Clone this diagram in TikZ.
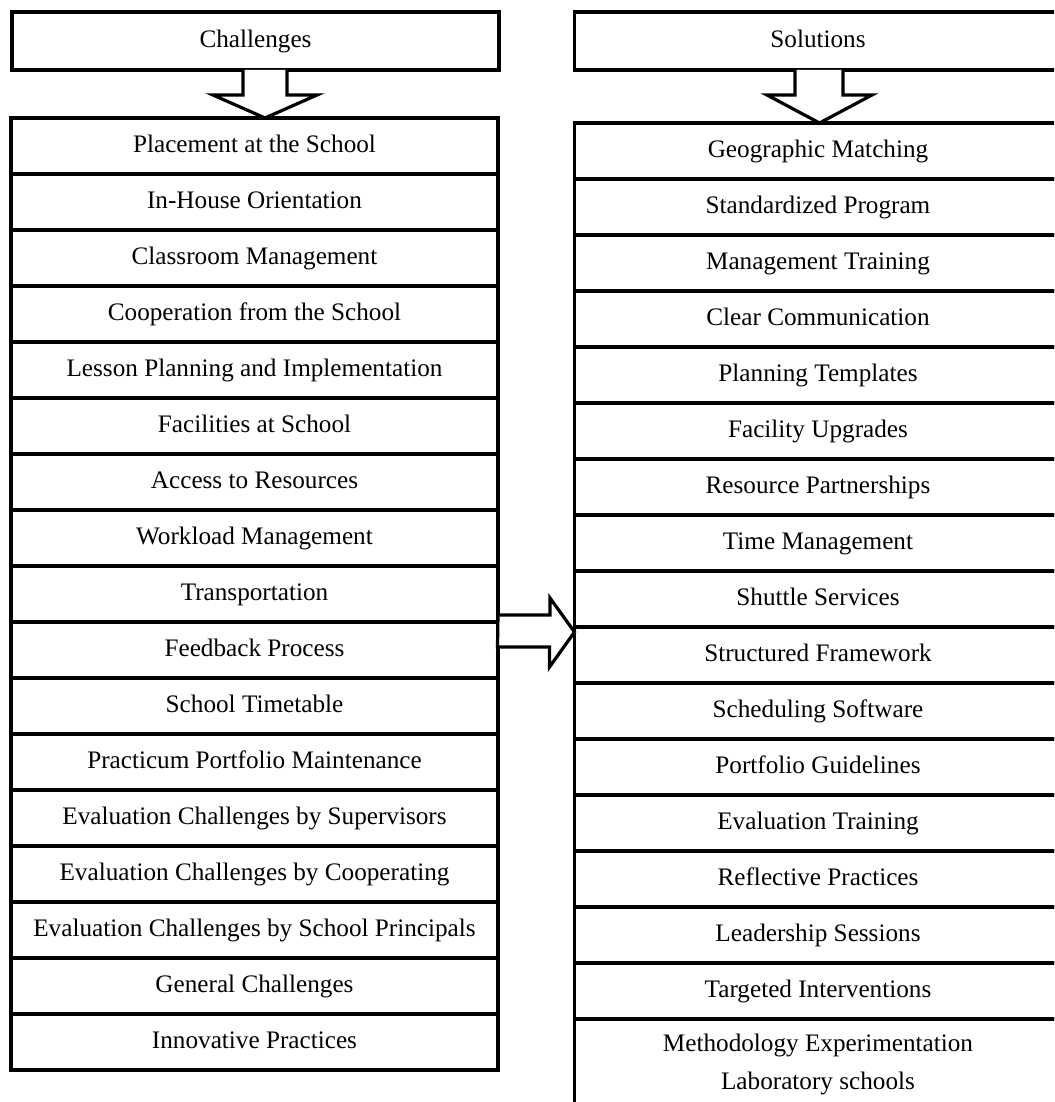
\documentclass[tikz,border=0pt]{standalone}
\usepackage{fontspec}
\setmainfont{Liberation Serif}
\usepackage{tikz}
\usetikzlibrary{positioning}

\tikzset{
  row/.style={draw, line width=1.7pt, outer sep=0pt, minimum width=243.5pt,
    minimum height=28pt, align=center, inner sep=0pt, text height=9pt,
    text depth=2.5pt, font=\fontsize{12.6}{18}\selectfont},
  head/.style={row, minimum height=29pt},
  blockarrow/.style={draw, fill=white, line width=1.6pt, line join=miter}
}

\begin{document}
\begin{tikzpicture}[x=0.5pt,y=-0.5pt]
\clip (0,0) rectangle (1054,1102);
\fill[white] (0,0) rectangle (1054,1102);
% заголовки
\node[head] (chal) at (255.5,41) {Challenges};
\node[head] (sol) at (818,41) {Solutions};
% левый столбец
\node[row] (c1) at (254.5,146) {Placement at the School};
\node[row] (c2) [below=0pt of c1] {In-House Orientation};
\node[row] (c3) [below=0pt of c2] {Classroom Management};
\node[row] (c4) [below=0pt of c3] {Cooperation from the School};
\node[row] (c5) [below=0pt of c4] {Lesson Planning and Implementation};
\node[row] (c6) [below=0pt of c5] {Facilities at School};
\node[row] (c7) [below=0pt of c6] {Access to Resources};
\node[row] (c8) [below=0pt of c7] {Workload Management};
\node[row] (c9) [below=0pt of c8] {Transportation};
\node[row] (c10) [below=0pt of c9] {Feedback Process};
\node[row] (c11) [below=0pt of c10] {School Timetable};
\node[row] (c12) [below=0pt of c11] {Practicum Portfolio Maintenance};
\node[row] (c13) [below=0pt of c12] {Evaluation Challenges by Supervisors};
\node[row] (c14) [below=0pt of c13] {Evaluation Challenges by Cooperating};
\node[row] (c15) [below=0pt of c14] {Evaluation Challenges by School Principals};
\node[row] (c16) [below=0pt of c15] {General Challenges};
\node[row] (c17) [below=0pt of c16] {Innovative Practices};
% правый столбец
\node[row] (s1) at (818,151) {Geographic Matching};
\node[row] (s2) [below=0pt of s1] {Standardized Program};
\node[row] (s3) [below=0pt of s2] {Management Training};
\node[row] (s4) [below=0pt of s3] {Clear Communication};
\node[row] (s5) [below=0pt of s4] {Planning Templates};
\node[row] (s6) [below=0pt of s5] {Facility Upgrades};
\node[row] (s7) [below=0pt of s6] {Resource Partnerships};
\node[row] (s8) [below=0pt of s7] {Time Management};
\node[row] (s9) [below=0pt of s8] {Shuttle Services};
\node[row] (s10) [below=0pt of s9] {Structured Framework};
\node[row] (s11) [below=0pt of s10] {Scheduling Software};
\node[row] (s12) [below=0pt of s11] {Portfolio Guidelines};
\node[row] (s13) [below=0pt of s12] {Evaluation Training};
\node[row] (s14) [below=0pt of s13] {Reflective Practices};
\node[row] (s15) [below=0pt of s14] {Leadership Sessions};
\node[row] (s16) [below=0pt of s15] {Targeted Interventions};
\node[row, minimum height=45pt, text height=, text depth=] (s17) [below=0pt of s16]
  {Methodology Experimentation\\[1pt] Laboratory schools};
% стрелки
\coordinate (la) at (265,0);
\coordinate (ra) at (819.5,0);
\coordinate (mt) at (0,632);
\draw[blockarrow] (chal.south -| la) ++(-22,0) -- ++(0,25) -- ++(-30,0)
  -- (c1.north -| la) -- ++(52,-23) -- ++(-30,0) -- ++(0,-25);
\draw[blockarrow] (sol.south -| ra) ++(-24.5,0) -- ++(0,25) -- ++(-28,0)
  -- (s1.north -| ra) -- ++(52.5,-28) -- ++(-29,0) -- ++(0,-25);
\draw[blockarrow] (c10.north east) ++(0,-7) -- ++(52,0) -- ++(0,-17)
  -- (s10.west |- mt) -- ++(-25,35) -- ++(0,-20) -- ++(-52,0) -- cycle;
\end{tikzpicture}
\end{document}
